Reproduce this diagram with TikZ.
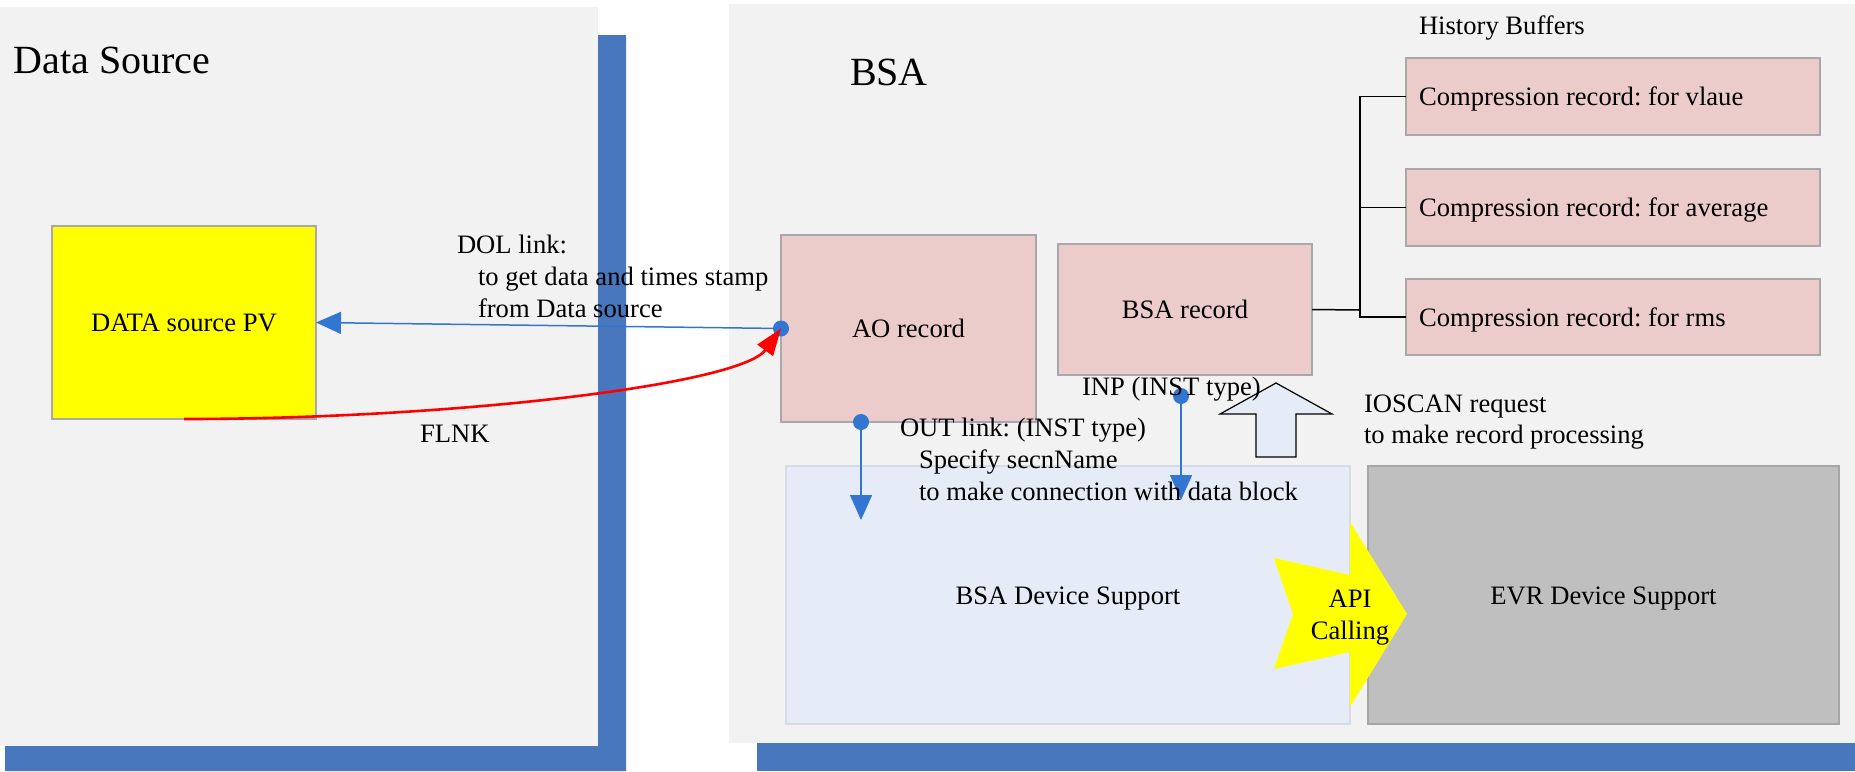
\documentclass[tikz,border=0pt]{standalone}
\usepackage{fontspec}
\setmainfont{Liberation Serif}
\usetikzlibrary{arrows.meta,fit,calc}
\frenchspacing

\definecolor{panelgray}{HTML}{F2F2F2}
\definecolor{shadowblue}{HTML}{4877BE}
\definecolor{recpink}{HTML}{ECCCCB}
\definecolor{boxedge}{HTML}{A8A8A8}
\definecolor{devblue}{HTML}{E6ECF7}
\definecolor{devedge}{HTML}{D6DCE6}
\definecolor{evrgray}{HTML}{BFBFBF}
\definecolor{evredge}{HTML}{A6A6A6}
\definecolor{linkblue}{HTML}{3276D2}
\definecolor{apiyellow}{HTML}{FFFF00}

\begin{document}
\begin{tikzpicture}[x=0.5pt,y=-0.5pt,
  every node/.style={inner sep=0pt,outer sep=0pt},
  txt/.style={font=\fontsize{13.3pt}{16pt}\selectfont,anchor=base west,align=left},
  bigtxt/.style={font=\fontsize{20pt}{24pt}\selectfont,anchor=base west},
  recbox/.style={draw=boxedge,line width=0.6pt,fill=recpink},
  bdot/.style={circle,fill=linkblue,minimum size=8pt},
  link/.style={draw=linkblue,line width=0.75pt,-{Triangle[length=12.5pt,width=11pt]}},
  flnk/.style={draw=red,line width=1.3pt,-{Triangle[length=13.5pt,width=9.5pt]}},
  bracket/.style={draw=black,line width=0.75pt}]

\useasboundingbox (0,0) rectangle (1855,771);

% container panels with their shadows
\fill[shadowblue] (598,35) -- (626,35) -- (626,771) -- (5,771) -- (5,746) -- (598,746) -- cycle;
\fill[panelgray] (0,7) rectangle (598,746);
\fill[shadowblue] (757,743) rectangle (1855,771);
\fill[panelgray] (729,4) rectangle (1855,743);

\node[bigtxt] (dstitle) at (13.5,73) {Data Source};
\node[bigtxt] (bsatitle) at (850,85) {BSA};

% records and device support blocks
\node[draw=boxedge,line width=0.6pt,fill=apiyellow,fit={(52,226)(316,419)}] (dspv) {};
\node[recbox,fit={(781,235)(1036,422)}] (ao) {};
\node[recbox,fit={(1058,244)(1312,375)}] (bsarec) {};
\node[recbox,fit={(1406,58)(1820,135)}] (cval) {};
\node[recbox,fit={(1406,169)(1820,246)}] (cavg) {};
\node[recbox,fit={(1406,279)(1820,355)}] (crms) {};
\node[draw=devedge,line width=0.6pt,fill=devblue,fit={(786,466)(1350,724)}] (bsadev) {};
\node[draw=evredge,line width=0.6pt,fill=evrgray,fit={(1368,466)(1839,724)}] (evrdev) {};

\node[txt,anchor=base] at ($(dspv.center)+(0,9)$) {DATA source PV};
\node[txt,anchor=base] at ($(ao.center)+(0,9)$) {AO record};
\node[txt,anchor=base] at ($(bsarec.center)+(0,9)$) {BSA record};
\node[txt,anchor=base] at ($(bsadev.center)+(0,9)$) {BSA Device Support};
\node[txt,anchor=base] at ($(evrdev.center)+(0,9)$) {EVR Device Support};
\node[txt] at ($(cval.west)+(13,9)$) {Compression record: for vlaue};
\node[txt] at ($(cavg.west)+(13,9)$) {Compression record: for average};
\node[txt] at ($(crms.west)+(13,9)$) {Compression record: for rms};
\node[txt] (hist) at (1419,34.6) {History Buffers};

% BSA record feeding the history buffers
\draw[bracket] (bsarec.east) -- (1360,310);
\draw[bracket] (cval.west) -- ++(-46,0) |- (crms.west);
\draw[bracket] (cavg.west) -- ++(-46,0);

% record links
\node[bdot] (aodot) at (ao.west) {};
\node[bdot] (outdot) at (861,422) {};
\node[bdot] (inpdot) at (1181,396) {};
\coordinate (outend) at (861,520);
\coordinate (inpend) at (1181,500);
\draw[link] (aodot.center) -- (dspv.east);
\draw[link] (outdot.center) -- (outend);
\draw[link] (inpdot.center) -- (inpend);
\draw[flnk] (dspv.south) .. controls (450,419) and (740,385) .. (aodot.center);

% IOSCAN request arrow
\draw[draw=black,line width=0.6pt,fill=devblue]
  (1256,457) -- (1256,414) -- (1220,414) -- (1276,383) -- (1332,414)
  -- (1296,414) -- (1296,457) -- cycle;

% API calling arrow
\fill[apiyellow] (1274,558) -- (1350,575) -- (1350,522) -- (1407,614)
  -- (1350,707) -- (1350,652) -- (1274,669) -- (1293,614) -- cycle;
% (multi-line nodes: the base anchor sits on the last line)
\node[txt,anchor=base,align=center] (api) at (1350,639) {API\\Calling};

% link labels
\node[txt] (dollbl) at (457,317) {DOL link:\\\hspace*{10.5pt}to get data and times stamp\\\hspace*{10.5pt}from Data source};
\node[txt] (flnklbl) at (420,442) {FLNK};
\node[txt] (outlbl) at (900,500) {OUT link: (INST type)\\\hspace*{9.5pt}Specify secnName\\\hspace*{9.5pt}to make connection with data block};
\node[txt] (inplbl) at (1082,395) {INP (INST type)};
\node[txt,font=\fontsize{13.3pt}{15.5pt}\selectfont] (ioscanlbl) at (1364,443) {IOSCAN request\\to make record processing};
\end{tikzpicture}
\end{document}
